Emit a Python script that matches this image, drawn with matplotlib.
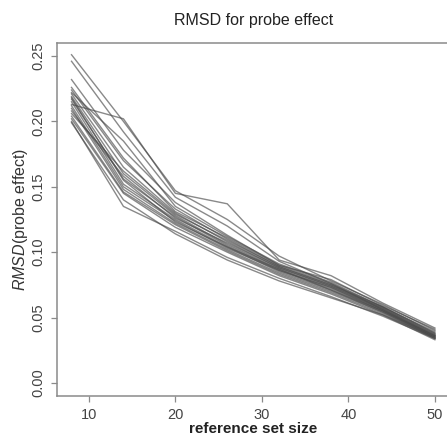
import matplotlib
matplotlib.use("Agg")
import matplotlib.pyplot as plt

plt.rcParams['font.family'] = ['Liberation Sans', 'DejaVu Sans']
plt.rcParams['mathtext.fontset'] = 'custom'
plt.rcParams['mathtext.it'] = 'Liberation Sans:italic'
plt.rcParams['mathtext.rm'] = 'Liberation Sans'

set_sizes = [8, 14, 20, 26, 32, 38, 44, 50]

rmsd_series = [
    [0.251, 0.200, 0.147, 0.125, 0.097, 0.078, 0.060, 0.040],
    [0.246, 0.192, 0.142, 0.120, 0.093, 0.076, 0.058, 0.038],
    [0.213, 0.202, 0.145, 0.137, 0.094, 0.082, 0.061, 0.042],
    [0.232, 0.178, 0.138, 0.113, 0.090, 0.079, 0.059, 0.041],
    [0.224, 0.170, 0.133, 0.110, 0.089, 0.075, 0.057, 0.037],
    [0.221, 0.165, 0.130, 0.108, 0.088, 0.074, 0.056, 0.036],
    [0.219, 0.160, 0.128, 0.106, 0.087, 0.073, 0.055, 0.035],
    [0.217, 0.156, 0.127, 0.105, 0.086, 0.072, 0.055, 0.035],
    [0.215, 0.152, 0.125, 0.104, 0.085, 0.071, 0.054, 0.034],
    [0.212, 0.150, 0.124, 0.103, 0.086, 0.073, 0.056, 0.036],
    [0.210, 0.148, 0.122, 0.102, 0.084, 0.070, 0.054, 0.035],
    [0.208, 0.158, 0.126, 0.107, 0.088, 0.074, 0.057, 0.037],
    [0.206, 0.162, 0.129, 0.109, 0.089, 0.075, 0.058, 0.038],
    [0.204, 0.146, 0.121, 0.101, 0.083, 0.069, 0.053, 0.034],
    [0.202, 0.145, 0.119, 0.100, 0.082, 0.068, 0.052, 0.033],
    [0.200, 0.135, 0.116, 0.096, 0.080, 0.066, 0.051, 0.034],
    [0.199, 0.140, 0.114, 0.094, 0.078, 0.065, 0.052, 0.035],
    [0.222, 0.185, 0.135, 0.112, 0.091, 0.077, 0.058, 0.039],
    [0.226, 0.172, 0.131, 0.111, 0.090, 0.076, 0.056, 0.036],
    [0.218, 0.155, 0.123, 0.104, 0.087, 0.071, 0.055, 0.036],
]

x_ticks = [10, 20, 30, 40, 50]
y_ticks = [0.00, 0.05, 0.10, 0.15, 0.20, 0.25]
y_tick_labels = ["0.00", "0.05", "0.10", "0.15", "0.20", "0.25"]

fig = plt.figure(figsize=(4.47, 4.38), dpi=100)
ax = fig.add_axes([0.1275, 0.0959, 0.878, 0.806])

for s in rmsd_series:
    ax.plot(set_sizes, s, color='#4a4a4a', alpha=0.65, lw=1.0)

ax.set_xlim(6.32, 51.68)
ax.set_ylim(-0.01, 0.26)
ax.set_xticks(x_ticks)
ax.set_xticklabels([str(t) for t in x_ticks], fontsize=10.5)
ax.set_yticks(y_ticks)
ax.set_yticklabels(y_tick_labels, fontsize=10.5, rotation=90, va='center')

for sp in ax.spines.values():
    sp.set_color('#8a8a8a')
    sp.set_linewidth(1.1)
ax.tick_params(axis='both', colors='#444444', color='#8a8a8a', length=4.5, width=0.9)
ax.tick_params(axis='x', pad=4)
ax.tick_params(axis='y', pad=4)

ax.set_title("RMSD for probe effect", fontsize=11.5, pad=13, color='#222222')
ax.set_xlabel("reference set size", fontsize=11, fontweight='bold', labelpad=0.3, color='#222222')
ax.set_ylabel("$RMSD$(probe effect)", fontsize=11.5, labelpad=1, color='#333333')

fig.savefig("out.png", dpi=100)
